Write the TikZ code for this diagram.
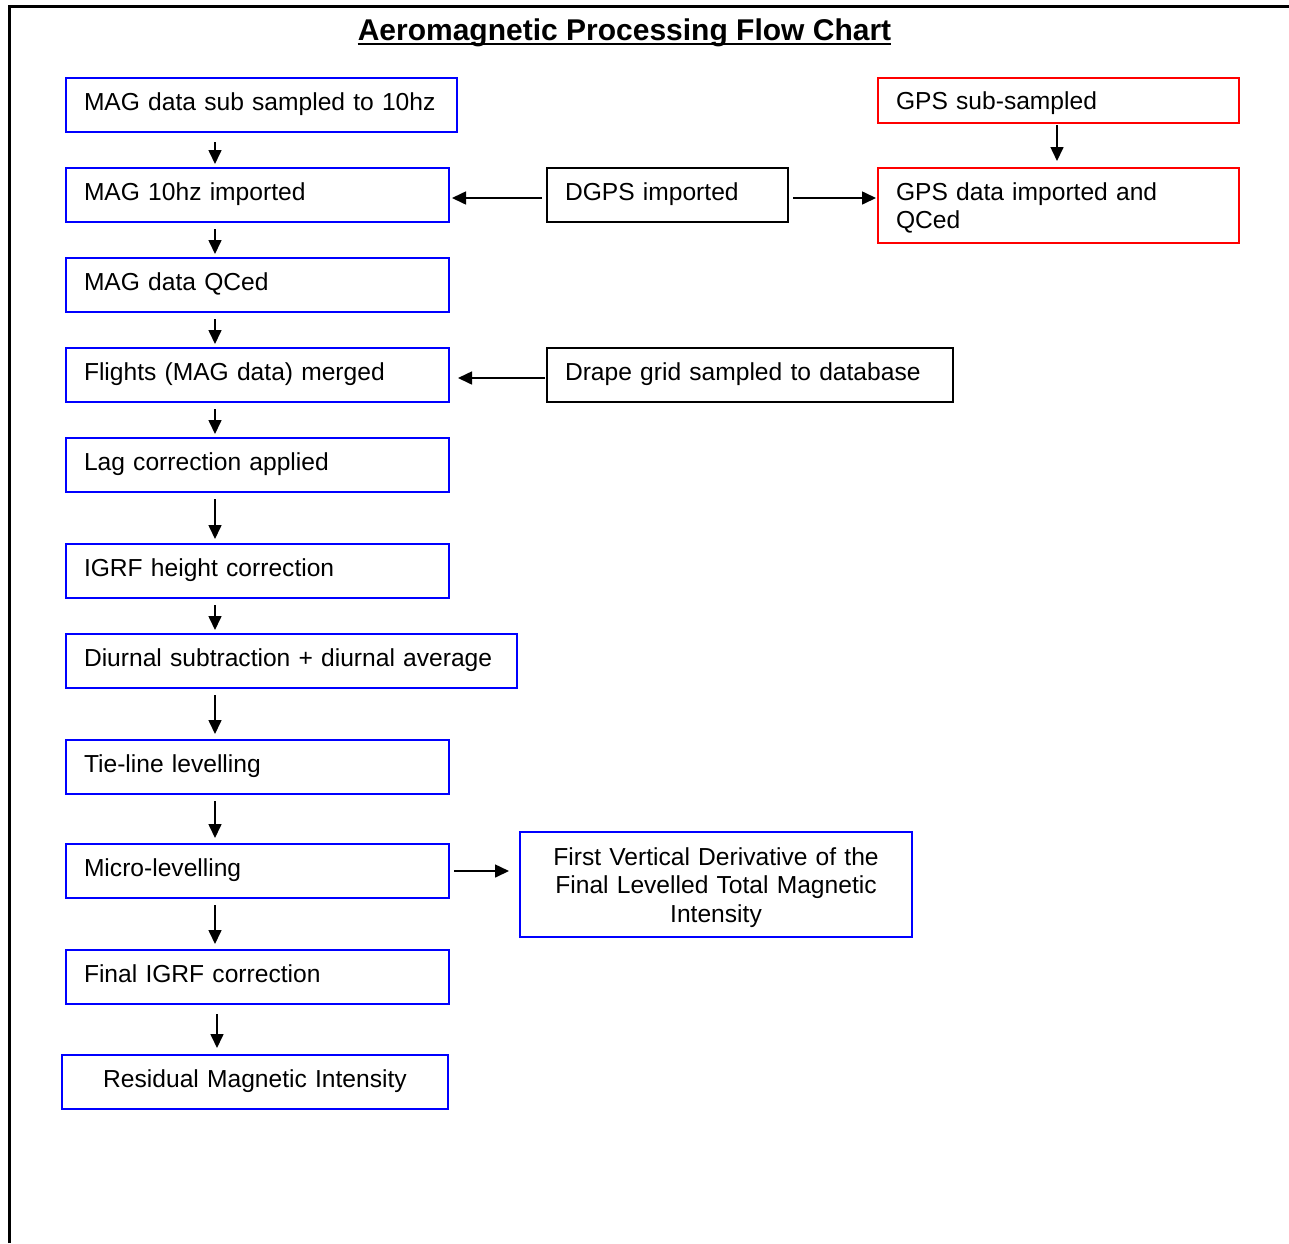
\documentclass[tikz,border=0pt]{standalone}
\usepackage{fontspec}
\setmainfont{Liberation Sans}
\usetikzlibrary{arrows.meta}
\begin{document}
\begin{tikzpicture}[x=1pt,y=-1pt,
  box/.style={draw, line width=2pt, anchor=north west, inner xsep=18pt, inner ysep=0pt,
    align=left, font=\fontsize{24.6}{28}\selectfont},
  one/.style={text height=15pt, text depth=5pt},
  bluebox/.style={box, draw=blue},
  redbox/.style={box, draw=red},
  blackbox/.style={box, draw=black},
  arr/.style={line width=1.6pt, -{Triangle[length=14pt,width=13pt]}},
  frame/.style={line width=3pt},
]
\useasboundingbox (0,0) rectangle (1289,1243);
\draw[frame] (9,1243) -- (9,6.5) -- (1289,6.5);

% title
\node[font=\fontsize{30}{36}\selectfont\bfseries, anchor=base, inner sep=0pt] (title) at (624.5,40) {Aeromagnetic Processing Flow Chart};
\draw[line width=2.5pt] ([yshift=-4pt]title.base west) -- ([yshift=-4pt]title.base east);

% main column
\node[bluebox, one, text width=355pt, minimum height=54pt] (b1) at (65,77) {\mbox{MAG data sub sampled to 10hz}};
\node[bluebox, one, text width=347pt, minimum height=54pt] (b2) at (65,167) {\mbox{MAG 10hz imported}};
\node[bluebox, one, text width=347pt, minimum height=54pt] (b3) at (65,257) {\mbox{MAG data QCed}};
\node[bluebox, one, text width=347pt, minimum height=54pt] (b4) at (65,347) {\mbox{Flights (MAG data) merged}};
\node[bluebox, one, text width=347pt, minimum height=54pt] (b5) at (65,437) {\mbox{Lag correction applied}};
\node[bluebox, one, text width=347pt, minimum height=54pt] (b6) at (65,543) {\mbox{IGRF height correction}};
\node[bluebox, one, text width=415pt, minimum height=54pt] (b7) at (65,633) {\mbox{Diurnal subtraction + diurnal average}};
\node[bluebox, one, text width=347pt, minimum height=54pt] (b8) at (65,739) {\mbox{Tie-line levelling}};
\node[bluebox, one, text width=347pt, minimum height=54pt] (b9) at (65,843) {\mbox{Micro-levelling}};
\node[bluebox, one, text width=347pt, minimum height=54pt] (b10) at (65,949) {\mbox{Final IGRF correction}};
\node[bluebox, one, align=center, text width=350pt, minimum height=54pt] (b11) at (61,1054) {\mbox{Residual Magnetic Intensity}};

% right side
\node[redbox, text height=19pt, text depth=0.5pt, text width=325pt, minimum height=45pt] (gpss) at (877,77) {\mbox{GPS sub-sampled}};
\node[redbox, text width=325pt, minimum height=75pt] (gpsd) at (877,167) {\rule{0pt}{22pt}GPS data imported and\\QCed};
\node[blackbox, one, text width=205pt, minimum height=54pt] (dgps) at (546,167) {\mbox{DGPS imported}};
\node[blackbox, one, text width=370pt, minimum height=54pt] (drape) at (546,347) {\mbox{Drape grid sampled to database}};
\node[bluebox, align=center, font=\fontsize{24.6}{28.5}\selectfont, text width=356pt, minimum height=105pt] (fvd) at (519,831) {\rule{0pt}{24pt}First Vertical Derivative of the\\Final Levelled Total Magnetic\\Intensity};

% vertical arrows
\draw[arr, shorten <=9pt, shorten >=3pt] ([xshift=150pt]b1.south west) -- ([xshift=150pt]b2.north west);
\draw[arr, shorten <=6pt, shorten >=3pt] ([xshift=150pt]b2.south west) -- ([xshift=150pt]b3.north west);
\draw[arr, shorten <=6pt, shorten >=3pt] ([xshift=150pt]b3.south west) -- ([xshift=150pt]b4.north west);
\draw[arr, shorten <=6pt, shorten >=3pt] ([xshift=150pt]b4.south west) -- ([xshift=150pt]b5.north west);
\draw[arr, shorten <=6pt, shorten >=4pt] ([xshift=150pt]b5.south west) -- ([xshift=150pt]b6.north west);
\draw[arr, shorten <=6pt, shorten >=3pt] ([xshift=150pt]b6.south west) -- ([xshift=150pt]b7.north west);
\draw[arr, shorten <=6pt, shorten >=5pt] ([xshift=150pt]b7.south west) -- ([xshift=150pt]b8.north west);
\draw[arr, shorten <=6pt, shorten >=5pt] ([xshift=150pt]b8.south west) -- ([xshift=150pt]b9.north west);
\draw[arr, shorten <=6pt, shorten >=5pt] ([xshift=150pt]b9.south west) -- ([xshift=150pt]b10.north west);
\draw[arr, shorten <=9pt, shorten >=6pt] ([xshift=152pt]b10.south west) -- ([xshift=156pt]b11.north west);
\draw[arr, shorten <=1pt, shorten >=6pt] ([xshift=180pt]gpss.south west) -- ([xshift=180pt]gpsd.north west);

% horizontal arrows
\draw[arr, shorten <=4pt, shorten >=2pt] ([yshift=-3pt]dgps.west) -- ([yshift=-3pt]dgps.west -| b2.east);
\draw[arr, shorten <=4pt, shorten >=1pt] ([yshift=-3pt]dgps.east) -- ([yshift=-3pt]dgps.east -| gpsd.west);
\draw[arr, shorten <=1pt, shorten >=8pt] ([yshift=-3pt]drape.west) -- ([yshift=-3pt]drape.west -| b4.east);
\draw[arr, shorten <=4pt, shorten >=10pt] (b9.east) -- (b9.east -| fvd.west);
\end{tikzpicture}
\end{document}
